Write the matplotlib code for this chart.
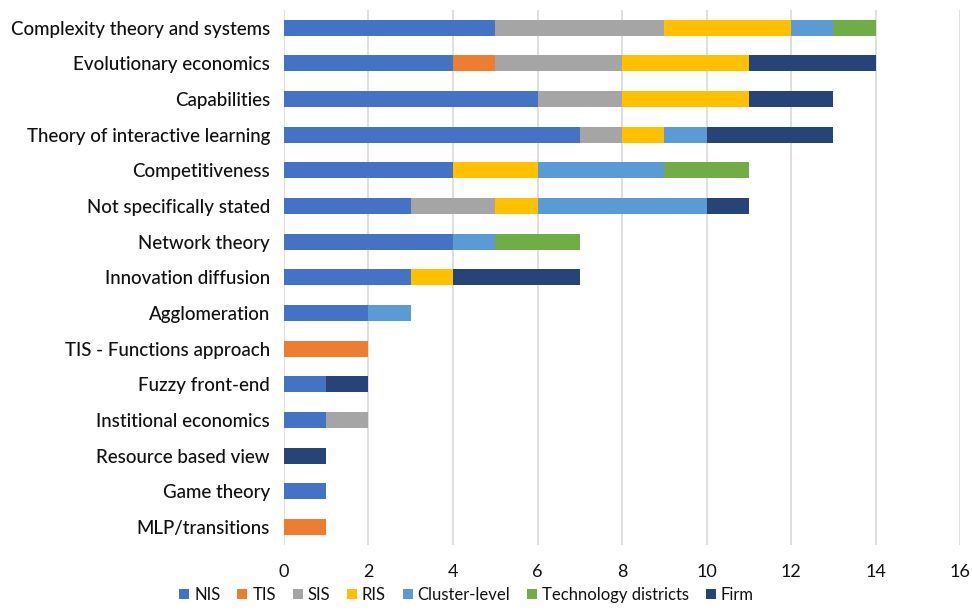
import matplotlib.pyplot as plt
import numpy as np

plt.rcParams["font.family"] = ["Lato", "DejaVu Sans"]

categories = [
    "Complexity theory and systems", "Evolutionary economics", "Capabilities",
    "Theory of interactive learning", "Competitiveness", "Not specifically stated",
    "Network theory", "Innovation diffusion", "Agglomeration",
    "TIS - Functions approach", "Fuzzy front-end", "Institional economics",
    "Resource based view", "Game theory", "MLP/transitions",
]
series_names = ["NIS", "TIS", "SIS", "RIS", "Cluster-level", "Technology districts", "Firm"]
nis = [5, 4, 6, 7, 4, 3, 4, 3, 2, 0, 1, 1, 0, 1, 0]
tis = [0, 1, 0, 0, 0, 0, 0, 0, 0, 2, 0, 0, 0, 0, 1]
sis = [4, 3, 2, 1, 0, 2, 0, 0, 0, 0, 0, 1, 0, 0, 0]
ris = [3, 3, 3, 1, 2, 1, 0, 1, 0, 0, 0, 0, 0, 0, 0]
cluster = [1, 0, 0, 1, 3, 4, 1, 0, 1, 0, 0, 0, 0, 0, 0]
tech = [1, 0, 0, 0, 2, 0, 2, 0, 0, 0, 0, 0, 0, 0, 0]
firm = [0, 3, 2, 3, 0, 1, 0, 3, 0, 0, 1, 0, 1, 0, 0]
x_ticks = [0, 2, 4, 6, 8, 10, 12, 14, 16]

colors = ["#4472C4", "#ED7D31", "#A5A5A5", "#FFC000", "#5B9BD5", "#70AD47", "#264478"]
series = [nis, tis, sis, ris, cluster, tech, firm]

fig = plt.figure(figsize=(9.72, 6.13), dpi=100)
ax = fig.add_axes([0.292, 0.111, 0.696, 0.873])

y = np.arange(len(categories))
left = np.zeros(len(categories))
for name, vals, col in zip(series_names, series, colors):
    ax.barh(y, vals, left=left, height=0.45, color=col, label=name)
    left += np.array(vals)

ax.set_ylim(len(categories) - 0.5, -0.5)
ax.set_xlim(0, 16)
ax.set_xticks(x_ticks)
ax.set_yticks(y)
ax.set_yticklabels(categories, fontsize=13.5, color="#111111", fontweight="medium")
ax.tick_params(axis="x", labelsize=13, colors="#111111", length=0, pad=14)
ax.tick_params(axis="y", length=0, pad=10)
ax.grid(axis="x", color="#D9D9D9", linewidth=1.2)
ax.set_axisbelow(True)
for s in ax.spines.values():
    s.set_visible(False)

fig.legend(loc="lower center", bbox_to_anchor=(0.48, -0.008), ncol=7, frameon=False,
           fontsize=12, handlelength=0.6, handleheight=0.6, handletextpad=0.3,
           columnspacing=1.0, labelcolor="#111111")

fig.savefig("out.png", dpi=100)
